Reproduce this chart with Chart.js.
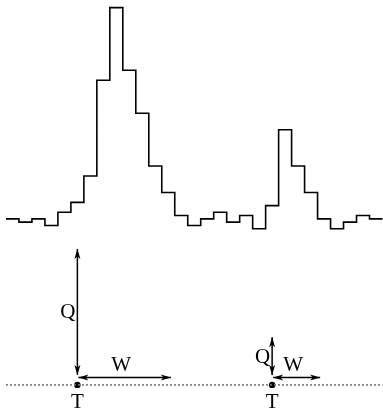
<!DOCTYPE html>
<html lang="en">
<head>
    <meta charset="UTF-8">
    <title>Peaks: height Q, width W, position T</title>
    <script src="https://cdn.jsdelivr.net/npm/chart.js"></script>
    <style>
        body {
            margin: 0;
            background: #ffffff;
        }
        #wrap {
            width: 383px;
            height: 408px;
        }
    </style>
</head>
<body>
    <div id="wrap">
        <canvas id="peakChart" width="383" height="408"></canvas>
    </div>

    <script>
        // histogram counts, one per bin (bins are 1 unit wide, starting at 0)
        const binValues = [6, 5, 6, 4, 8, 11, 19, 48, 70, 51, 38, 22, 14, 7, 4,
                           6, 8, 5, 7, 3, 10, 33, 22, 14, 6, 3, 5, 7, 6];

        // annotation level and the two marked peaks
        const baseLevel = -44.3;
        const peakLabels = ["T", "T"];
        const peakT = [5.5, 20.5];   // position (bin units)
        const peakQ = [41.2, 14.4];  // height above base level
        const peakW = [7.2, 3.7];    // width (bin units)

        // step line points: left edge of every bin plus the closing right edge
        const stepPoints = binValues.map((v, i) => ({ x: i, y: v }));
        stepPoints.push({ x: binValues.length, y: binValues[binValues.length - 1] });

        const basePoints = [{ x: 0, y: baseLevel }, { x: binValues.length, y: baseLevel }];
        const tPoints = peakT.map(t => ({ x: t, y: baseLevel }));

        function arrowHead(ctx, x0, y0, x1, y1) {
            // head at (x1, y1), pointing away from (x0, y0)
            const ang = Math.atan2(y1 - y0, x1 - x0);
            const len = 10, half = 3;
            ctx.beginPath();
            ctx.moveTo(x1, y1);
            ctx.lineTo(x1 - len * Math.cos(ang) + half * Math.sin(ang),
                       y1 - len * Math.sin(ang) - half * Math.cos(ang));
            ctx.lineTo(x1 - (len - 2.5) * Math.cos(ang), y1 - (len - 2.5) * Math.sin(ang));
            ctx.lineTo(x1 - len * Math.cos(ang) - half * Math.sin(ang),
                       y1 - len * Math.sin(ang) + half * Math.cos(ang));
            ctx.closePath();
            ctx.fill();
        }

        function doubleArrow(ctx, x0, y0, x1, y1) {
            ctx.beginPath();
            ctx.moveTo(x0, y0);
            ctx.lineTo(x1, y1);
            ctx.stroke();
            arrowHead(ctx, x1, y1, x0, y0);
            arrowHead(ctx, x0, y0, x1, y1);
        }

        const peakArrows = {
            id: "peakArrows",
            afterDatasetsDraw(chart) {
                const { ctx, scales: { x, y } } = chart;
                ctx.save();
                ctx.strokeStyle = "#000";
                ctx.fillStyle = "#000";
                ctx.lineWidth = 1.5;
                ctx.font = "21px \"Liberation Serif\", \"Times New Roman\", serif";
                peakT.forEach((t, i) => {
                    const px = x.getPixelForValue(t);
                    const pBase = y.getPixelForValue(baseLevel);
                    const pTop = y.getPixelForValue(baseLevel + peakQ[i]);
                    const qBottom = pBase - 10;
                    const wy = pBase - 7.5;
                    const pRight = x.getPixelForValue(t + peakW[i]);

                    // Q: vertical arrow
                    doubleArrow(ctx, px, qBottom, px, pTop);
                    // W: horizontal arrow
                    doubleArrow(ctx, px + 1, wy, pRight, wy);

                    ctx.textAlign = "right";
                    ctx.textBaseline = "middle";
                    ctx.fillText("Q", px - 2, (qBottom + pTop) / 2 + 1);

                    ctx.textAlign = "center";
                    ctx.textBaseline = "alphabetic";
                    ctx.fillText("W", (px + pRight) / 2 - 3, wy - 6);

                    ctx.textBaseline = "top";
                    ctx.fillText(peakLabels[i], px, pBase + 7);
                });
                ctx.restore();
            }
        };

        new Chart(document.getElementById("peakChart").getContext("2d"), {
            type: "line",
            data: {
                datasets: [
                    {
                        data: stepPoints,
                        stepped: "before",
                        borderColor: "#000",
                        borderWidth: 1.6,
                        pointRadius: 0,
                        fill: false
                    },
                    {
                        data: basePoints,
                        borderColor: "#777",
                        borderWidth: 1.6,
                        borderDash: [2, 2],
                        pointRadius: 0,
                        fill: false
                    },
                    {
                        data: tPoints,
                        showLine: false,
                        pointRadius: 3.2,
                        pointBackgroundColor: "#000",
                        pointBorderColor: "#000",
                        pointBorderWidth: 0
                    }
                ]
            },
            options: {
                responsive: false,
                animation: false,
                devicePixelRatio: 1,
                layout: { padding: 0, autoPadding: false },
                plugins: {
                    legend: { display: false },
                    title: { display: false },
                    tooltip: { enabled: false }
                },
                scales: {
                    x: {
                        type: "linear",
                        display: false,
                        min: -0.46,
                        max: 29.04
                    },
                    y: {
                        type: "linear",
                        display: false,
                        min: -51.3,
                        max: 72.3
                    }
                }
            },
            plugins: [peakArrows]
        });
    </script>
</body>
</html>
